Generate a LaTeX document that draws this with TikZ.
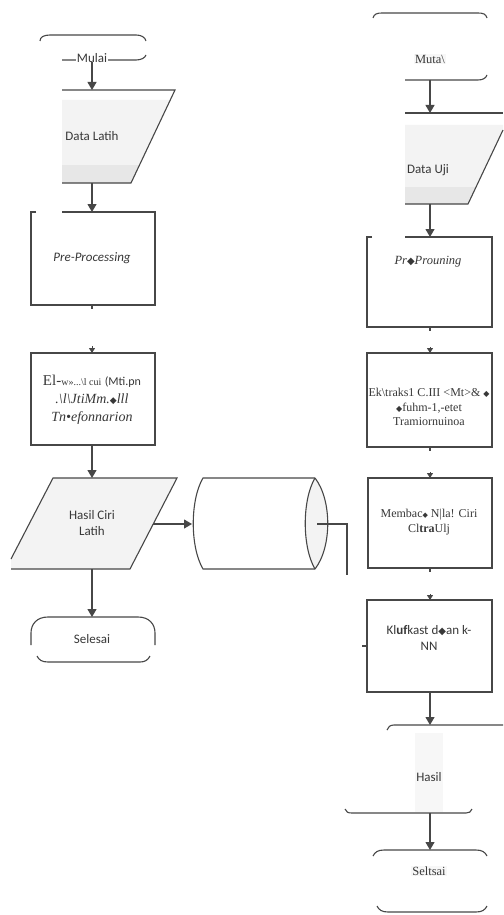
\documentclass[tikz,border=0pt]{standalone}
\usepackage{fontspec}
\setmainfont{Liberation Serif}
\setsansfont{Carlito}
\newfontfamily\dvs{DejaVu Sans}
\usetikzlibrary{arrows.meta}
\definecolor{linec}{HTML}{474747}
\definecolor{txtc}{HTML}{383838}
\definecolor{fillA}{HTML}{F3F3F3}
\definecolor{fillB}{HTML}{E7E7E7}
\newcommand{\dmd}[1][9]{{\dvs\fontsize{#1}{#1}\selectfont ◆}}
\tikzset{
  arr/.style={-{Triangle[width=9pt,length=8pt]}, line width=1.1pt},
  arrs/.style={-{Triangle[width=6pt,length=5pt]}, line width=1pt},
  sl/.style={font=\sffamily\fontsize{13}{15.5}\selectfont, text=txtc, align=center, inner sep=1pt},
  sr/.style={font=\rmfamily\fontsize{12}{14.5}\selectfont, text=txtc, align=center, inner sep=1pt},
  srb/.style={font=\rmfamily\fontsize{14}{18}\selectfont, text=txtc, align=center, inner sep=1pt},
}
\begin{document}
\begin{tikzpicture}[x=1pt,y=-1pt,line width=1.1pt,color=linec]
\useasboundingbox[fill=white] (0,0) rectangle (503,915);

% ================= LEFT COLUMN =================
% Mulai
\draw (40,41) .. controls (40,37) and (44,35) .. (50,35) -- (136,35) .. controls (141,35) and (145,37) .. (146,41);
\draw (62,60) -- (136,60) .. controls (141,60) and (145,58) .. (146,55);
\node[sl, fill=white] (mulaiL) at (92,58) {Mulai};
\coordinate (mulaiLb) at (92,62);

% Data Latih
\fill[fillA] (62,100) -- (170.3,100) -- (131,183) -- (62,183) -- cycle;
\fill[fillB] (62,165) -- (139.5,165) -- (131,183) -- (62,183) -- cycle;
\draw (62,90) -- (175,90) -- (131,183) -- (62,183);
\node[sl] (dlatih) at (92,136) {Data Latih};
\coordinate (dlT) at (92,90);
\coordinate (dlB) at (92,183);
\draw[arr] (mulaiLb) -- (dlT);

% Pre-Processing (left)
\draw (36,212) -- (31,212) -- (31,305) -- (155,305) -- (155,212) -- (62,212);
\node[sl, font=\sffamily\itshape\fontsize{13}{15}\selectfont] (preL) at (92,258) {Pre-Processing};
\coordinate (preLT) at (92,212);
\coordinate (preLB) at (92,305);
\draw[arr] (dlB) -- (preLT);
\draw (preLB) -- ++(0,4);

% Ekstraksi (left)
\draw (31,353) rectangle (155,445);
\node[srb] (extL) at (92,400) {{\fontsize{15}{18}\selectfont El-}{\fontsize{10}{18}\selectfont w»...\textbackslash l \textsc{cui}} {\sffamily\fontsize{12}{18}\selectfont (Mti.pn}\\
\textit{.\textbackslash l\textbackslash JtiMm.\dmd[9]lll}\\
\textit{Tn•efonnarion}};
\coordinate (extLT) at (92,353);
\coordinate (extLB) at (92,445);
\draw[arrs] (92,346) -- (extLT);

% Hasil Ciri Latih
\fill[fillA] (53,478) -- (177,478) -- (130,569) -- (11,569) -- (11,559) -- cycle;
\draw (11,559) -- (53,478) -- (177,478) -- (130,569) -- (11,569);
\node[sl] (hcl) at (92,523) {Hasil Ciri\\Latih};
\coordinate (hclT) at (92,478);
\coordinate (hclB) at (92,569);
\coordinate (hclR) at (153,524);
\draw[arr] (extLB) -- (hclT);

% Database cylinder
\fill[fillA] (315,478) .. controls (302,500) and (302,547) .. (315,569) .. controls (332,547) and (332,500) .. (315,478);
\draw (315,478) -- (203,478) .. controls (190,500) and (190,547) .. (203,569) -- (315,569);
\draw (315,478) .. controls (302,500) and (302,547) .. (315,569);
\draw (315,478) .. controls (332,500) and (332,547) .. (315,569);
\coordinate (dbL) at (192,524);
\coordinate (dbR) at (317,524);
\draw[arr] (hclR) -- (dbL);
\coordinate (dbTurn) at (347,524);
\coordinate (dbEnd) at (347,575);
\draw (dbR) -- (dbTurn) -- (dbEnd);

% Selesai (left)
\draw (31,645) -- (31,633) .. controls (31,624) and (37,617) .. (48,617) -- (138,617) .. controls (149,617) and (155,624) .. (155,633) -- (155,645);
\draw (37,656) .. controls (39,660) and (42,662) .. (48,662) -- (140,662) .. controls (145,662) and (148,660) .. (150,656);
\node[sl] (selL) at (92,639) {Selesai};
\coordinate (selLT) at (92,617);
\draw[arr] (hclB) -- (selLT);

% ================= RIGHT COLUMN =================
% Mulai (right)
\draw (373,18) .. controls (374,14) and (377,13) .. (382,13) -- (478,13) .. controls (483,13) and (486,14) .. (487,18);
\draw (405,80) -- (478,80) .. controls (483,80) and (486,78) .. (487,75);
\node[sr, fill=gray!6, font=\rmfamily\fontsize{12.5}{15}\selectfont] (mulaiR) at (430,59) {Muta\textbackslash};
\coordinate (mulaiRb) at (430,80);

% Data Uji
\fill[fillA] (405,125) -- (503,125) -- (503,130) -- (468,204) -- (405,204) -- cycle;
\fill[fillB] (405,187) -- (476,187) -- (468,204) -- (405,204) -- cycle;
\draw (405,113) -- (503,113);
\draw (503,130) -- (468,204) -- (405,204);
\node[sl] (duji) at (428,170) {Data Uji};
\coordinate (dujiT) at (430,113);
\coordinate (dujiB) at (430,204);
\draw[arr] (mulaiRb) -- (dujiT);

% Pre-Processing (right)
\draw (372,237) -- (367,237) -- (367,327) -- (492,327) -- (492,237) -- (405,237);
\node[sr, font=\rmfamily\itshape\fontsize{12.5}{15}\selectfont] (preR) at (428,262) {Pr\dmd[10]Prouning};
\coordinate (preRT) at (430,237);
\coordinate (preRB) at (430,327);
\draw[arr] (dujiB) -- (preRT);
\draw (preRB) -- ++(0,4);

% Ekstraksi (right)
\draw (367,353) rectangle (492,447);
\node[sr] (extR) at (429,407) {Ek\textbackslash traks1 C.III <Mt>\& \dmd[8]\\
\dmd[8]fuhm-1,-etet\\
Tramiornuinoa};
\coordinate (extRT) at (430,353);
\coordinate (extRB) at (430,447);
\draw[arrs] (430,347) -- (extRT);
\draw (extRB) -- ++(0,4);

% Membaca
\draw (368,478) rectangle (492,568);
\node[sr] (baca) at (429,522) {Membac\dmd[7] N|la! Ciri\\Cl\textbf{tra}Ulj};
\coordinate (bacaT) at (430,478);
\coordinate (bacaB) at (430,568);
\draw[arrs] (430,472) -- (bacaT);
\draw (bacaB) -- ++(0,4);

% Klasifikasi
\draw (367,600) rectangle (492,692);
\node[sl] (klas) at (429,638) {Kl\textbf{uf}kast d\dmd[10]an k-\\NN};
\coordinate (klasT) at (430,600);
\coordinate (klasB) at (430,692);
\coordinate (klasL) at (367,646);
\draw[arrs] (430,594) -- (klasT);
\draw (362,646) -- (klasL);

% Hasil
\fill[gray!6] (415,733) rectangle (443,812);
\draw (387,730) .. controls (388,727) and (390,725) .. (394,725) -- (503,725);
\draw (345,809) .. controls (346,812) and (348,813) .. (352,813) -- (466,813) .. controls (469,813) and (471,812) .. (472,809);
\node[sl] (hasil) at (429,777) {Hasil};
\coordinate (hasilT) at (430,725);
\coordinate (hasilB) at (430,813);
\draw[arr] (klasB) -- (hasilT);

% Selesai (right)
\draw (373,856) .. controls (375,852) and (378,850) .. (384,850) -- (476,850) .. controls (482,850) and (485,852) .. (487,856);
\draw (377,906) .. controls (379,910) and (382,912) .. (388,912) -- (476,912) .. controls (482,912) and (485,910) .. (487,906);
\node[sr, fill=gray!6, font=\rmfamily\fontsize{12.5}{15}\selectfont] (selR) at (429,871) {Seltsai};
\coordinate (selRT) at (430,850);
\draw[arr] (hasilB) -- (selRT);

\end{tikzpicture}
\end{document}
